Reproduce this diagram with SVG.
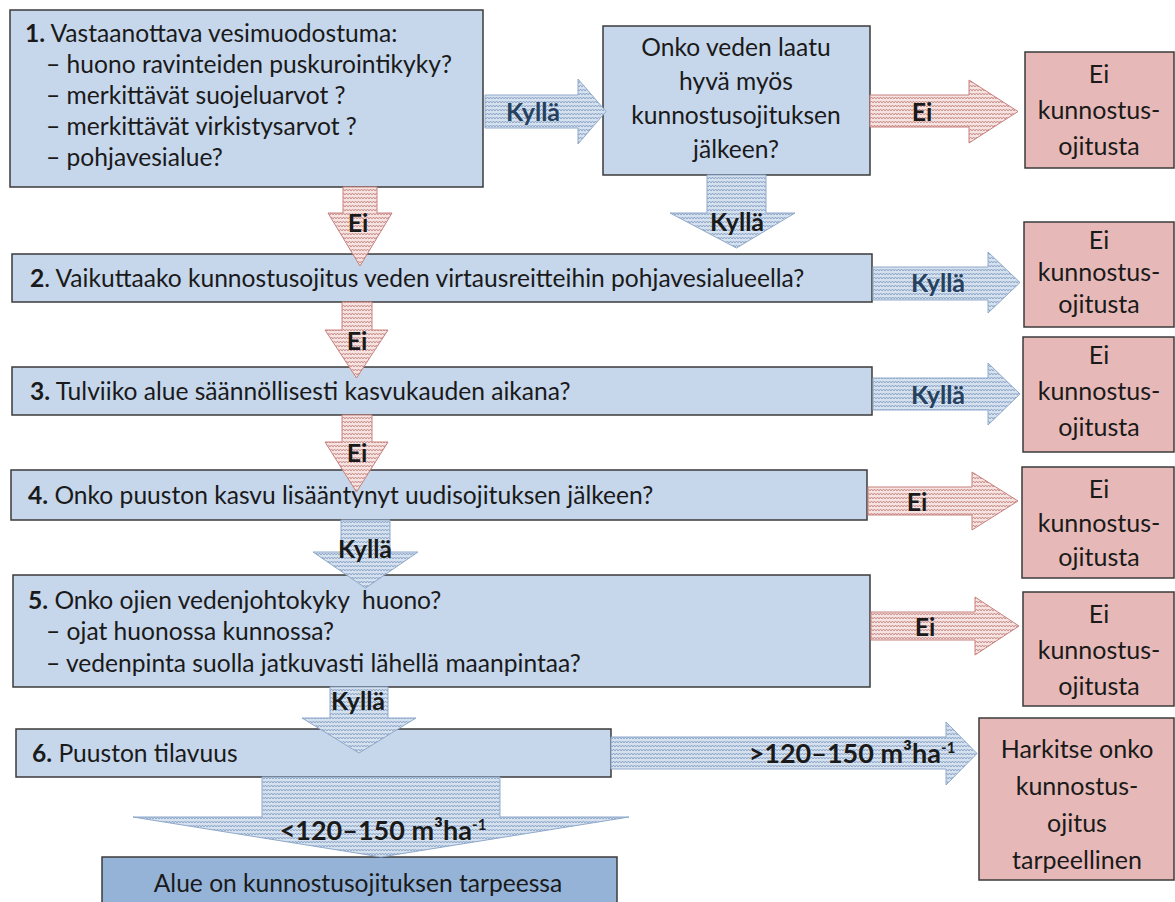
<svg xmlns="http://www.w3.org/2000/svg" width="1175" height="902" viewBox="0 0 1175 902">
<style>
.bb{fill:#c6d6eb;stroke:#3b3b3b;stroke-width:1.5}
.rb{fill:#e6b9b8;stroke:#3b3b3b;stroke-width:1.5}
.fb{fill:#95b3d7;stroke:#3b3b3b;stroke-width:1.5}
.t{font-family:Lato,"Open Sans",sans-serif;font-size:24.6px;fill:#1a1a1a}
.tr{font-size:25px}
.c{text-anchor:middle}
.b{font-weight:bold}
.ab{fill:url(#wb);stroke:#8fa9cb;stroke-width:1}
.ar{fill:url(#wr);stroke:#c8807d;stroke-width:1}
.lb{font-family:Lato,"Open Sans",sans-serif;font-size:25px;font-weight:bold;text-anchor:middle;fill:#1a1a1a}
.lm{font-size:27px}
.lblue{fill:#26415f}
</style>
<defs>
<pattern id="wb" width="6" height="4" patternUnits="userSpaceOnUse">
<rect width="6" height="4" fill="#d5e1ef"/>
<path d="M0 3 L1.5 1 L3 3 L4.5 1 L6 3" fill="none" stroke="#7e99be" stroke-width="0.8"/>
</pattern>
<pattern id="wr" width="6" height="4" patternUnits="userSpaceOnUse">
<rect width="6" height="4" fill="#f5e3e2"/>
<path d="M0 3 L1.5 1 L3 3 L4.5 1 L6 3" fill="none" stroke="#c27c79" stroke-width="0.8"/>
</pattern>
</defs>
<rect width="1175" height="902" fill="#ffffff"/>

<g id="n1">
<rect class="bb" x="10" y="10" width="473" height="177"/>
<text class="t" x="25" y="42"><tspan class="b">1.</tspan> Vastaanottava vesimuodostuma:</text>
<text class="t" x="46" y="73">– huono ravinteiden puskurointikyky?</text>
<text class="t" x="46" y="104">– merkittävät suojeluarvot ?</text>
<text class="t" x="46" y="135">– merkittävät virkistysarvot ?</text>
<text class="t" x="46" y="166">– pohjavesialue?</text>
</g>

<g id="n1b">
<rect class="bb" x="603" y="26" width="267" height="149"/>
<text class="t c" x="736" y="56">Onko veden laatu</text>
<text class="t c" x="736" y="90">hyvä myös</text>
<text class="t c" x="736" y="124">kunnostusojituksen</text>
<text class="t c" x="736" y="158">jälkeen?</text>
</g>

<g id="r1">
<rect class="rb" x="1025" y="52" width="149" height="116"/>
<text class="t tr c" x="1099" y="83">Ei</text>
<text class="t tr c" x="1099" y="119">kunnostus-</text>
<text class="t tr c" x="1099" y="155">ojitusta</text>
</g>

<g id="n2">
<rect class="bb" x="12" y="254" width="860" height="48"/>
<text class="t" x="30" y="287"><tspan class="b">2</tspan>. Vaikuttaako kunnostusojitus veden virtausreitteihin pohjavesialueella?</text>
</g>

<g id="r2">
<rect class="rb" x="1024" y="222" width="150" height="105"/>
<text class="t tr c" x="1099" y="249">Ei</text>
<text class="t tr c" x="1099" y="281">kunnostus-</text>
<text class="t tr c" x="1099" y="313">ojitusta</text>
</g>

<g id="n3">
<rect class="bb" x="12" y="367" width="860" height="48"/>
<text class="t" x="30" y="400"><tspan class="b">3.</tspan> Tulviiko alue säännöllisesti kasvukauden aikana?</text>
</g>

<g id="r3">
<rect class="rb" x="1023" y="337" width="151" height="115"/>
<text class="t tr c" x="1099" y="364">Ei</text>
<text class="t tr c" x="1099" y="400">kunnostus-</text>
<text class="t tr c" x="1099" y="436">ojitusta</text>
</g>

<g id="n4">
<rect class="bb" x="11" y="470" width="856" height="50"/>
<text class="t" x="28" y="504"><tspan class="b">4.</tspan> Onko puuston kasvu lisääntynyt uudisojituksen jälkeen?</text>
</g>

<g id="r4">
<rect class="rb" x="1022" y="467" width="152" height="111"/>
<text class="t tr c" x="1099" y="498">Ei</text>
<text class="t tr c" x="1099" y="532">kunnostus-</text>
<text class="t tr c" x="1099" y="566">ojitusta</text>
</g>

<g id="n5">
<rect class="bb" x="13" y="575" width="857" height="112"/>
<text class="t" x="28" y="609"><tspan class="b">5.</tspan> Onko ojien vedenjohtokyky&#160; huono?</text>
<text class="t" x="46" y="640">– ojat huonossa kunnossa?</text>
<text class="t" x="46" y="672">– vedenpinta suolla jatkuvasti lähellä maanpintaa?</text>
</g>

<g id="r5">
<rect class="rb" x="1023" y="592" width="151" height="114"/>
<text class="t tr c" x="1099" y="623">Ei</text>
<text class="t tr c" x="1099" y="659">kunnostus-</text>
<text class="t tr c" x="1099" y="695">ojitusta</text>
</g>

<g id="n6">
<rect class="bb" x="16" y="729" width="595" height="48"/>
<text class="t" x="32" y="762"><tspan class="b">6.</tspan> Puuston tilavuus</text>
</g>

<g id="r6">
<rect class="rb" x="979" y="718" width="195" height="162"/>
<text class="t tr c" x="1077" y="758">Harkitse onko</text>
<text class="t tr c" x="1077" y="795">kunnostus-</text>
<text class="t tr c" x="1077" y="832">ojitus</text>
<text class="t tr c" x="1077" y="869">tarpeellinen</text>
</g>

<g id="n7">
<rect class="fb" x="102" y="857" width="515" height="46"/>
<text class="t c" x="358" y="892">Alue on kunnostusojituksen tarpeessa</text>
</g>

<g id="connectors">
<polygon class="ab" points="485,95 578,95 578,79 606,111.5 578,144 578,128 485,128"/>
<text class="lb lblue" x="533" y="121">Kyllä</text>

<polygon class="ar" points="870,95 969,95 969,80 1018,111.5 969,143 969,127 870,127"/>
<text class="lb" x="922" y="121">Ei</text>

<polygon class="ar" points="343,187 377,187 377,213 392,213 360,266 328,213 343,213"/>
<text class="lb" x="358" y="232">Ei</text>

<polygon class="ab" points="707,175 766,175 766,213 795,213 736.5,248 670,213 707,213"/>
<text class="lb" x="737" y="231">Kyllä</text>

<polygon class="ab" points="873,267 988,267 988,252 1020,282.5 988,313 988,300 873,300"/>
<text class="lb lblue" x="938" y="292">Kyllä</text>

<polygon class="ar" points="342,302 372,302 372,330 388,330 356.5,378 325,330 342,330"/>
<text class="lb" x="357" y="350">Ei</text>

<polygon class="ab" points="873,378 988,378 988,363 1020,394 988,425 988,410 873,410"/>
<text class="lb lblue" x="938" y="404">Kyllä</text>

<polygon class="ar" points="342,415 372,415 372,442 388,442 356.5,492 325,442 342,442"/>
<text class="lb" x="357" y="462">Ei</text>

<polygon class="ar" points="868,487 972,487 972,472 1018,501 972,530 972,515 868,515"/>
<text class="lb" x="917" y="511">Ei</text>

<polygon class="ab" points="341,520 390,520 390,552 418,552 365.5,588 313,552 341,552"/>
<text class="lb" x="365" y="558">Kyllä</text>

<polygon class="ar" points="871,612 975,612 975,597 1019,626 975,655 975,640 871,640"/>
<text class="lb" x="925" y="636">Ei</text>

<polygon class="ab" points="330,687 388,687 388,718 416,718 359,753 302,718 330,718"/>
<text class="lb" x="358" y="710">Kyllä</text>

<polygon class="ab" points="611,737 946,737 946,722 977,753.5 946,785 946,769 611,769"/>
<text class="lb lm" x="852" y="763">&gt;120–150 m³ha<tspan font-size="15" dy="-10">-1</tspan></text>

<polygon class="ab" points="262,777 500,777 500,817 629,817 381,857 133,817 262,817"/>
<text class="lb lm" x="383" y="840">&lt;120–150 m³ha<tspan font-size="15" dy="-10">-1</tspan></text>
</g>
</svg>
